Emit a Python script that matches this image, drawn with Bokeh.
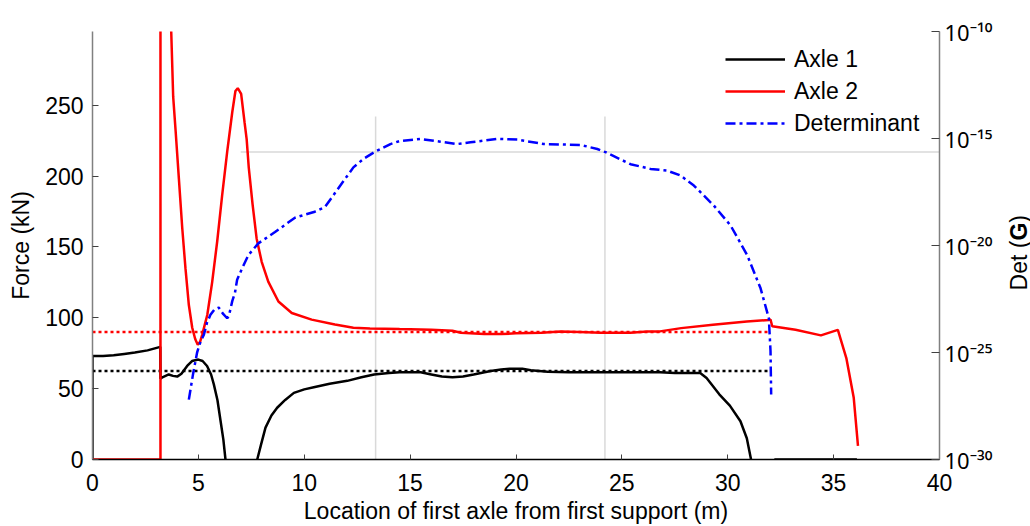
import numpy as np
from bokeh.plotting import figure
from bokeh.models import Range1d, LinearAxis, FixedTicker, Legend, LegendItem, Div
from bokeh.layouts import row
from bokeh.embed import file_html
from bokeh.resources import INLINE

nan = np.nan

# axle 1 force (kN) vs location of first axle (m); NaN = off-chart (negative) part
axle1_x = [0, 0, 0.5, 1.0, 1.5, 2.0, 2.6, 3.2, 3.21, 3.3, 3.6, 3.8, 4.0, 4.2, 4.47, 4.7,
           5.0, 5.2, 5.41, 5.6, 5.73, 5.9, 6.05, 6.18, 6.28, nan,
           7.78, 7.95, 8.17, 8.45, 8.72, 9.1, 9.51, 10.0, 10.45, 11.2, 12.03, 12.7, 13.3,
           14.0, 14.5, 15.5, 16.0, 16.5, 17.0, 17.5, 18.0, 18.8, 19.3, 19.7, 20.3, 20.7,
           21.5, 22.5, 24.0, 25.5, 26.8, 27.5, 28.1, 28.7, 29.0, 29.6, 30.1, 30.6, 30.9,
           31.1, nan, 32.2, 36.1]
axle1_f = [0, 73, 73, 73.5, 74.5, 75.5, 77, 79.5, 57, 58, 60, 59, 58.5, 60.5, 66, 69.5,
           70.5, 69.5, 66, 60, 53, 42, 27, 14, 0, nan,
           0, 10, 22.5, 31, 36.5, 42, 47, 49.5, 51, 53.5, 55.5, 58, 60,
           61, 61.5, 61.5, 60, 58.5, 58, 58.5, 60, 62.5, 63.5, 64, 64, 63,
           62, 61.5, 61.5, 61.5, 61.5, 61, 61, 61, 57.5, 46, 38, 27, 15,
           0, nan, 0, 0]

# axle 2 force (kN)
axle2_x = [0, 3.21, 3.21, 3.72, 3.81, 3.92, 4.08, 4.24, 4.39, 4.55, 4.71, 4.85, 4.97, 5.08,
           5.18, 5.3, 5.42, 5.65, 5.89, 6.12, 6.36, 6.6, 6.75, 6.86, 7.02, 7.18, 7.28, 7.38,
           7.56, 7.75, 7.99, 8.3, 8.78, 9.41, 10.35, 11.45, 12.32, 13.1, 14.5, 16.0, 17.0,
           17.4, 18.5, 19.3, 20.0, 21.2, 22.1, 23.0, 24.0, 25.4, 26.2, 26.8, 27.8, 29.3,
           30.9, 31.95, 32.02, 32.1, 33.2, 34.4, 35.2, 35.6, 35.95, 36.15]
axle2_f = [0, 0, 480, 301, 256, 233, 198, 163, 135, 109, 93, 85, 81, 83,
           88, 95, 102, 125, 154, 186, 217, 245, 260, 262, 258, 238, 226, 206,
           180, 156, 139.5, 125.5, 111.5, 103.4, 98.7, 95.2, 93, 92.5, 92, 91.5, 90.8,
           89.5, 88.5, 88.5, 89, 89.5, 90.4, 90, 89.5, 89.5, 90.4, 90.4, 92.7, 95,
           97.4, 98.5, 98.8, 94, 91.5, 87.6, 91.5, 71.6, 43.5, 9.6]

# mean force levels (dotted)
mean_x = [0, 31.9]
axle1_mean = 62.5
axle2_mean = 90.0

# determinant of G, log10 values
det_x = [4.55, 4.75, 4.94, 5.1, 5.26, 5.41, 5.57, 5.75, 5.96, 6.17, 6.36, 6.44, 6.6, 6.73,
         6.83, 7.05, 7.36, 7.83, 8.62, 9.56, 10.5, 10.98, 11.45, 11.92, 12.32, 12.8, 13.37,
         14.07, 14.5, 15.49, 16.43, 17.22, 17.85, 19.11, 20.06, 21.31, 23.05, 23.84, 24.23,
         25.41, 26.35, 27.14, 27.77, 28.4, 29.34, 30.13, 30.92, 31.55, 31.94, 32.02, 32.05]
det_log = [-27.2, -26.0, -25.0, -24.5, -24.17, -23.6, -23.24, -23.0, -22.9, -23.2, -23.4,
           -23.3, -22.6, -22.2, -21.6, -21.1, -20.45, -19.9, -19.37, -18.7, -18.42, -18.2,
           -17.55, -16.9, -16.35, -15.95, -15.6, -15.26, -15.12, -15.02, -15.15, -15.26,
           -15.18, -15.02, -15.05, -15.26, -15.3, -15.49, -15.64, -16.2, -16.42, -16.5,
           -16.73, -17.2, -18.13, -19.06, -20.45, -22.0, -23.4, -24.94, -26.96]

# stray light grid pieces seen in the figure
grid_vx = [13.37, 24.2]
grid_vtop = 242
grid_hy = 217
grid_hx = [7.0, 40]

x_ticks = [0, 5, 10, 15, 20, 25, 30, 35, 40]
f_ticks = [0, 50, 100, 150, 200, 250]
det_ticks = [-30, -25, -20, -15, -10]
det_tick_labels = ["10\u207b\u00b3\u2070", "10\u207b\u00b2\u2075", "10\u207b\u00b2\u2070",
                   "10\u207b\u00b9\u2075", "10\u207b\u00b9\u2070"]

FONT = "Liberation Sans"
FS = "23px"

p = figure(width=1000, height=526, output_backend="svg", toolbar_location=None,
           x_range=Range1d(0, 40), y_range=Range1d(0, 302),
           min_border_left=92, min_border_right=61, min_border_top=31, min_border_bottom=63)
p.extra_y_ranges = {"det": Range1d(-30, -10)}
p.outline_line_color = None
p.grid.visible = False
p.background_fill_color = "white"

# partial grid lines
for gx in grid_vx:
    p.line([gx, gx], [0, grid_vtop], line_color="#d9d9d9", line_width=1.5)
p.line(grid_hx, [grid_hy, grid_hy], line_color="#d9d9d9", line_width=1.5)

r1 = p.line(axle1_x, axle1_f, line_color="black", line_width=2.5)
p.line(mean_x, [axle1_mean, axle1_mean], line_color="black", line_width=2.5, line_dash="3 3")
r2 = p.line(axle2_x, axle2_f, line_color="#ff0000", line_width=2.5)
p.line(mean_x, [axle2_mean, axle2_mean], line_color="#ff0000", line_width=2.5, line_dash="3 3")
r3 = p.line(det_x, det_log, line_color="#0000ff", line_width=2.5, line_dash="10 4 3 4",
            y_range_name="det")

# axes
xa = p.xaxis[0]
xa.ticker = FixedTicker(ticks=x_ticks)
xa.axis_label = "Location of first axle from first support (m)"
xa.axis_line_color = "black"
xa.axis_line_width = 1.5
xa.major_tick_in = 5
xa.major_tick_out = 0
xa.minor_tick_line_color = None
xa.major_label_standoff = 14
xa.axis_label_standoff = 4

ya = p.yaxis[0]
ya.ticker = FixedTicker(ticks=f_ticks)
ya.axis_label = "Force (kN)"
ya.axis_line_color = "#808080"
ya.axis_line_width = 1.5
ya.major_tick_in = 6
ya.major_tick_out = 0
ya.minor_tick_line_color = None
ya.major_label_standoff = 9
ya.axis_label_standoff = 8

ra = LinearAxis(y_range_name="det", ticker=FixedTicker(ticks=det_ticks),
                major_label_overrides={t: s for t, s in zip(det_ticks, det_tick_labels)})
ra.axis_line_color = "#808080"
ra.axis_line_width = 1.5
ra.major_tick_in = 8
ra.major_tick_out = 0
ra.minor_tick_line_color = None
ra.major_label_standoff = 5
p.add_layout(ra, "right")

for ax in [xa, ya, ra]:
    ax.major_tick_line_color = "#404040"
    ax.major_label_text_font = FONT
    ax.major_label_text_font_size = FS
    ax.major_label_text_color = "black"
    ax.axis_label_text_font = FONT
    ax.axis_label_text_font_size = FS
    ax.axis_label_text_font_style = "normal"
    ax.axis_label_text_color = "black"
ra.major_label_text_font = "Noto Sans"
ra.major_label_text_font_size = "22px"

legend = Legend(items=[LegendItem(label="Axle 1", renderers=[r1]),
                       LegendItem(label="Axle 2", renderers=[r2]),
                       LegendItem(label="Determinant", renderers=[r3])],
                location=(633, 321), padding=0, margin=0, spacing=2,
                glyph_width=60, glyph_height=30, label_height=30, label_standoff=9,
                label_text_font=FONT, label_text_font_size=FS, label_text_color="black",
                border_line_color=None, background_fill_alpha=0)
p.add_layout(legend)

# right axis title, "G" in bold
det_title = Div(
    text=('<div style="position:absolute; left:3px; top:210px; writing-mode:vertical-rl; '
          'transform:rotate(180deg); font-family:\'Liberation Sans\'; font-size:23px; '
          'line-height:22px; white-space:nowrap; color:black;">Det (<b>G</b>)</div>'),
    width=30, height=526, styles={"position": "relative"})

layout = row(p, det_title)
open("out.html", "w").write(file_html(layout, INLINE))
